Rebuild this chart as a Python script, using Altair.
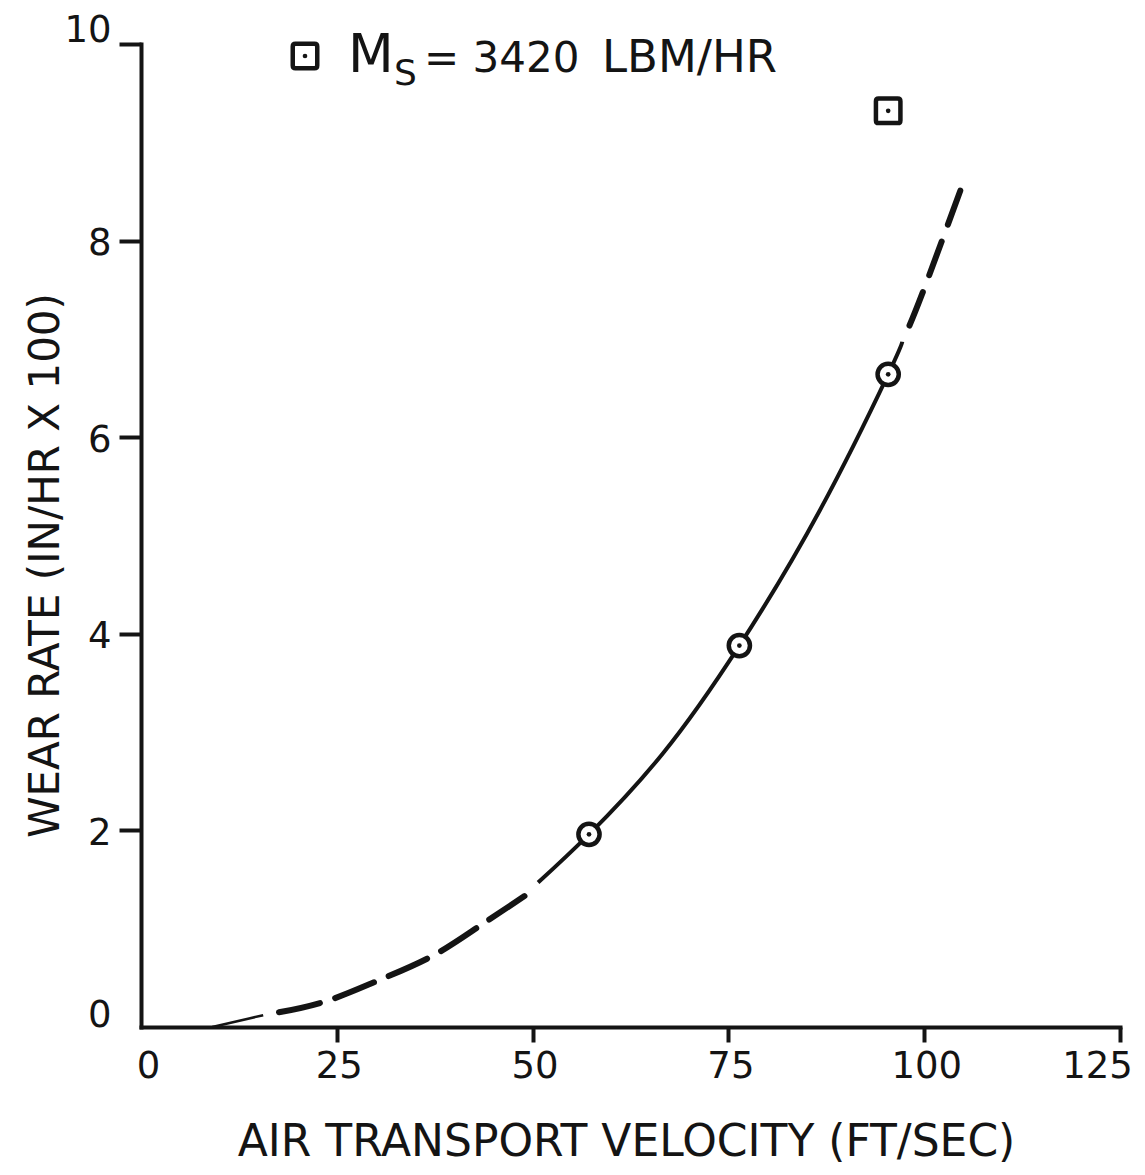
import altair as alt
import pandas as pd

# ---- values ----
# curve: air transport velocity (ft/sec) vs wear rate (in/hr x 100)
curve_v = [9.1, 15.6, 23.1, 29.9, 36.9, 42.9, 49.7, 50.7, 57.2, 66.6, 76.4, 86.7, 95.4, 97.2, 99.7, 104.8]
curve_w = [0.0, 0.12, 0.25, 0.46, 0.71, 1.01, 1.37, 1.47, 1.96, 2.78, 3.88, 5.26, 6.64, 6.97, 7.45, 8.55]
# circle data points
circle_v = [57.2, 76.4, 95.4]
circle_w = [1.96, 3.88, 6.64]
# square data point (Ms = 3420 lbm/hr)
square_v = [95.4]
square_w = [9.32]
x_ticks = [0, 25, 50, 75, 100, 125]
y_ticks = [0, 2, 4, 6, 8, 10]
legend_m = ["M"]
legend_sub = ["S"]
legend_eq = ["= 3420"]
legend_unit = ["LBM/HR"]

INK = "#141414"
FONT = "DejaVu Sans"
ROUND_SQ = ("M -0.78 -1 L 0.78 -1 Q 1 -1 1 -0.78 L 1 0.78 Q 1 1 0.78 1 "
            "L -0.78 1 Q -1 1 -1 0.78 L -1 -0.78 Q -1 -1 -0.78 -1 Z")

df_curve = pd.DataFrame({"v": curve_v, "w": curve_w})
df_circ = pd.DataFrame({"v": circle_v, "w": circle_w})
df_sq = pd.DataFrame({"v": square_v, "w": square_w})
df_dots = pd.DataFrame({"v": circle_v + square_v, "w": circle_w + square_w})

hide_zero_tick = {"condition": {"test": "datum.value == 0", "value": 0}, "value": 1}

x_axis = alt.Axis(
    values=x_ticks, format="d", grid=False, labelAngle=0, labelFlush=False,
    tickSize=15, tickWidth=4, tickColor=INK, tickOpacity=hide_zero_tick,
    domainColor=INK, domainWidth=4, domainCap="square",
    labelFont=FONT, labelFontSize=37, labelColor=INK, labelPadding=6,
    labelOffset={"condition": [{"test": "datum.value == 125", "value": -23},
                               {"test": "datum.value == 0", "value": 7}],
                 "value": 2},
    titleFont=FONT, titleFontSize=44, titleFontWeight="normal", titleColor=INK,
    titleX=485, titleY=128, titleAlign="center", titleBaseline="alphabetic",
)
y_axis = alt.Axis(
    values=y_ticks, format="d", grid=False, labelFlush=False,
    tickSize=22, tickWidth=4, tickColor=INK, tickOpacity=hide_zero_tick,
    domainColor=INK, domainWidth=4, domainCap="square",
    labelFont=FONT, labelFontSize=37, labelColor=INK, labelPadding=8,
    labelOffset={"condition": [{"test": "datum.value == 10", "value": -14},
                               {"test": "datum.value == 0", "value": -12}],
                 "value": 3},
    titleFont=FONT, titleFontSize=42, titleFontWeight="normal", titleColor=INK,
    titleAngle=270, titleX=-83, titleY=521, titleAlign="center", titleBaseline="alphabetic",
)

X = alt.X("v:Q", scale=alt.Scale(domain=[0, 125], nice=False), axis=x_axis,
          title="AIR TRANSPORT VELOCITY (FT/SEC)")
Y = alt.Y("w:Q", scale=alt.Scale(domain=[0, 10], nice=False), axis=y_axis,
          title="WEAR RATE (IN/HR X 100)")

base = alt.Chart(df_curve)

thin = base.transform_filter(
    alt.FieldRangePredicate(field="v", range=[curve_v[0], curve_v[1]])
).mark_line(color=INK, strokeWidth=2.5, interpolate="natural").encode(x=X, y=Y)

low_dash = base.transform_filter(
    alt.FieldRangePredicate(field="v", range=[curve_v[1], curve_v[6]])
).mark_line(color=INK, strokeWidth=6, strokeDash=[42, 16], strokeDashOffset=42,
            strokeCap="round", interpolate="natural").encode(x=X, y=Y)

solid = base.transform_filter(
    alt.FieldRangePredicate(field="v", range=[curve_v[7], curve_v[13]])
).mark_line(color=INK, strokeWidth=4, interpolate="natural").encode(x=X, y=Y)

high_dash = base.transform_filter(
    alt.FieldRangePredicate(field="v", range=[curve_v[13], curve_v[15]])
).mark_line(color=INK, strokeWidth=6, strokeDash=[36, 18], strokeDashOffset=36,
            strokeCap="round", interpolate="natural").encode(x=X, y=Y)

circles = alt.Chart(df_circ).mark_point(
    shape="circle", size=450, filled=True, fill="white", stroke=INK,
    strokeWidth=4.5, opacity=1, fillOpacity=1
).encode(x=X, y=Y)

squares = alt.Chart(df_sq).mark_point(
    shape=ROUND_SQ, size=600, filled=True, fill="white", stroke=INK,
    strokeWidth=4.5, opacity=1, fillOpacity=1
).encode(x=X, y=Y)

dots = alt.Chart(df_dots).mark_point(
    shape="circle", size=22, filled=True, color=INK, opacity=1
).encode(x=X, y=Y)

# legend annotation
leg_sym = alt.Chart(pd.DataFrame({"t": legend_m})).mark_point(
    shape=ROUND_SQ, size=600, filled=True, fill="white", stroke=INK,
    strokeWidth=4.5, opacity=1, fillOpacity=1
).encode(x=alt.value(164), y=alt.value(12))
leg_dot = alt.Chart(pd.DataFrame({"t": legend_m})).mark_point(
    shape="circle", size=22, filled=True, color=INK, opacity=1
).encode(x=alt.value(164), y=alt.value(12))
leg_m = alt.Chart(pd.DataFrame({"t": legend_m})).mark_text(
    font=FONT, fontSize=53, color=INK, align="left", baseline="alphabetic"
).encode(x=alt.value(207), y=alt.value(28), text="t:N")
leg_s = alt.Chart(pd.DataFrame({"t": legend_sub})).mark_text(
    font=FONT, fontSize=36, color=INK, align="left", baseline="alphabetic"
).encode(x=alt.value(253), y=alt.value(41), text="t:N")
leg_eq = alt.Chart(pd.DataFrame({"t": legend_eq})).mark_text(
    font=FONT, fontSize=42, color=INK, align="left", baseline="alphabetic"
).encode(x=alt.value(283), y=alt.value(28), text="t:N")
leg_unit = alt.Chart(pd.DataFrame({"t": legend_unit})).mark_text(
    font=FONT, fontSize=45, color=INK, align="left", baseline="alphabetic"
).encode(x=alt.value(461), y=alt.value(28), text="t:N")

chart = alt.layer(
    thin, low_dash, solid, high_dash, circles, squares, dots,
    leg_sym, leg_dot, leg_m, leg_s, leg_eq, leg_unit
).properties(
    width=979, height=983,
    autosize=alt.AutoSizeParams(type="none"),
    padding={"left": 133, "top": 36, "right": 17, "bottom": 140},
    background="white",
).configure_view(strokeWidth=0)

chart.save("out.html", embed_options={"renderer": "svg", "actions": False})
